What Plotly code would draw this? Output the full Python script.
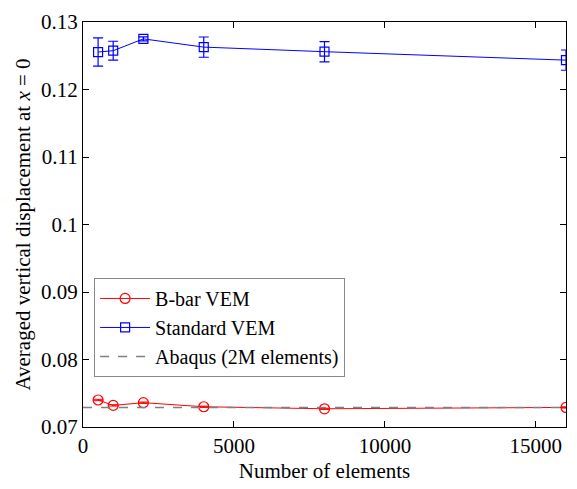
import plotly.graph_objects as go

elements = [500, 1000, 2000, 4000, 8000, 16000]
bbar_vals = [0.0740, 0.0732, 0.0736, 0.0730, 0.0727, 0.0729]
bbar_err = [0.0001, 0.0001, 0.0001, 0.0001, 0.0001, 0.0001]
std_vals = [0.12555, 0.12575, 0.1275, 0.12628, 0.1256, 0.12435]
std_err = [0.0021, 0.0014, 0.0003, 0.0015, 0.0015, 0.0015]
abaqus_val = 0.0729
x_range = [0, 16000]
x_ticks = [0, 5000, 10000, 15000]
x_ticktext = ["0", "5000", "10000", "15000"]
y_ticks = [0.07, 0.08, 0.09, 0.1, 0.11, 0.12, 0.13]
y_ticktext = ["0.07", "0.08", "0.09", "0.1", "0.11", "0.12", "0.13"]

font = "Liberation Serif"

fig = go.Figure()
fig.add_trace(go.Scatter(
    x=elements, y=bbar_vals, mode="lines+markers", name="B-bar VEM",
    line=dict(color="red", width=1),
    marker=dict(symbol="circle-open", size=10, color="red", line=dict(width=1.2)),
    error_y=dict(type="data", array=bbar_err, color="red", thickness=1, width=5),
))
fig.add_trace(go.Scatter(
    x=elements, y=std_vals, mode="lines+markers", name="Standard VEM",
    line=dict(color="blue", width=1),
    marker=dict(symbol="square-open", size=9, color="blue", line=dict(width=1.2)),
    error_y=dict(type="data", array=std_err, color="blue", thickness=1.2, width=5),
))
fig.add_trace(go.Scatter(
    x=x_range, y=[abaqus_val, abaqus_val], mode="lines", name="Abaqus (2M elements)",
    line=dict(color="#808080", width=1.5, dash="dash"),
))

axis_common = dict(
    showline=True, linecolor="black", linewidth=1, mirror="ticks",
    ticks="inside", ticklen=6, tickcolor="black", showgrid=False, zeroline=False,
    tickfont=dict(family=font, size=21, color="black"),
)
fig.update_layout(
    width=577, height=489,
    margin=dict(l=83, r=10, t=15, b=60),
    plot_bgcolor="white", paper_bgcolor="white",
    font=dict(family=font, color="black"),
    xaxis=dict(range=x_range, tickvals=x_ticks, ticktext=x_ticktext,
               title=dict(text="Number of elements", font=dict(family=font, size=21), standoff=6),
               **axis_common),
    yaxis=dict(range=[0.07, 0.13], tickvals=y_ticks, ticktext=y_ticktext,
               title=dict(text="Averaged vertical displacement at <i>x</i> = 0", font=dict(family=font, size=21), standoff=4),
               **axis_common),
    legend=dict(x=0.023, y=0.368, xanchor="left", yanchor="top",
                bgcolor="white", bordercolor="#888888", borderwidth=1,
                font=dict(family=font, size=20, color="black"),
                tracegroupgap=0, itemwidth=50),
    showlegend=True,
)
fig.write_html("out.html")
